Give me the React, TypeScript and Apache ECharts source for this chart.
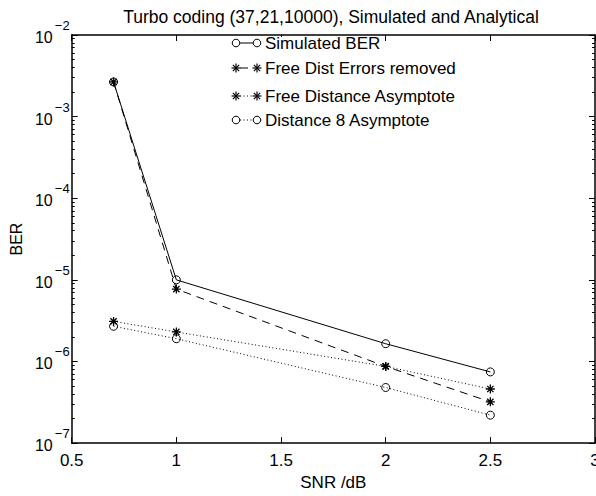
import React, { useEffect, useRef } from "react";
import * as echarts from "echarts";

// ---------- data ----------
const snr = [0.7, 1, 2, 2.5];
const simulatedBER = [2.66e-3, 1.0e-5, 1.65e-6, 7.45e-7];
const freeDistErrorsRemoved = [2.66e-3, 7.7e-6, 8.7e-7, 3.2e-7];
const freeDistanceAsymptote = [3.1e-6, 2.3e-6, 8.7e-7, 4.6e-7];
const distance8Asymptote = [2.7e-6, 1.9e-6, 4.8e-7, 2.2e-7];
const seriesNames = [
  "Simulated BER",
  "Free Dist Errors removed",
  "Free Distance Asymptote",
  "Distance 8 Asymptote",
];
const xTicks = [0.5, 1, 1.5, 2, 2.5, 3];
const yDecades = [-7, -6, -5, -4, -3, -2];
const titleText = "Turbo coding (37,21,10000), Simulated and Analytical";

const FONT = "'Liberation Sans', Arial, Helvetica, sans-serif";
const STAR = "path://M5,0L5,10M0,5L10,5M1.5,1.5L8.5,8.5M1.5,8.5L8.5,1.5";

const majorY = yDecades.map((d) => Math.pow(10, d));
const minorY: number[] = [];
yDecades.slice(0, -1).forEach((d) => {
  for (let m = 2; m <= 9; m++) minorY.push(m * Math.pow(10, d));
});

function pairs(ys: number[]) {
  return snr.map((x, i) => [x, ys[i]]);
}

function legendElements() {
  const rows = [43, 68, 96, 120];
  const x1 = 236;
  const x2 = 257;
  const kinds = [
    { marker: "circle", line: "solid" },
    { marker: "star", line: [8, 6] },
    { marker: "star", line: [1, 2.5] },
    { marker: "circle", line: [1, 2.5] },
  ];
  const els: any[] = [
    {
      type: "rect",
      shape: { x: 228, y: 37, width: 72, height: 95 },
      style: { fill: "#fff" },
      z: 100,
    },
  ];
  rows.forEach((y, i) => {
    const k = kinds[i];
    els.push({
      type: "line",
      shape: { x1: x1 + 4, y1: y, x2: x2 - 4, y2: y },
      style: { stroke: "#000", lineWidth: 1, lineDash: k.line === "solid" ? null : k.line },
      z: 101,
    });
    [x1, x2].forEach((cx) => {
      if (k.marker === "circle") {
        els.push({
          type: "circle",
          shape: { cx, cy: y, r: 3.8 },
          style: { stroke: "#000", fill: "none", lineWidth: 1 },
          z: 101,
        });
      } else {
        const r = 4.5;
        const d = r * 0.7;
        [
          [0, -r, 0, r],
          [-r, 0, r, 0],
          [-d, -d, d, d],
          [-d, d, d, -d],
        ].forEach(([a, b, c, e]) =>
          els.push({
            type: "line",
            shape: { x1: cx + a, y1: y + b, x2: cx + c, y2: y + e },
            style: { stroke: "#000", lineWidth: 1.2 },
            z: 101,
          })
        );
      }
    });
    els.push({
      type: "text",
      x: 265,
      y,
      style: {
        text: seriesNames[i],
        fill: "#000",
        font: `17px ${FONT}`,
        textVerticalAlign: "middle",
        textAlign: "left",
      },
      z: 101,
    });
  });
  return els;
}

export default function App() {
  const ref = useRef<HTMLDivElement>(null);
  useEffect(() => {
    if (!ref.current) return;
    const chart = echarts.init(ref.current, null, { renderer: "svg" });
    const axisLine = { show: true, onZero: false, lineStyle: { color: "#000", width: 1.5 } };
    const xCommon = {
      type: "value" as const,
      min: xTicks[0],
      max: xTicks[xTicks.length - 1],
      interval: 0.5,
      splitLine: { show: false },
      axisLine,
      axisTick: { show: true, inside: true, length: 6, lineStyle: { color: "#000" } },
    };
    const yCommon = {
      type: "log" as const,
      logBase: 10,
      min: majorY[0],
      max: majorY[majorY.length - 1],
      splitLine: { show: false },
    };
    const mkSeries = (name: string, ys: number[], symbol: string, lineType: any) => ({
      name,
      type: "line" as const,
      data: pairs(ys),
      symbol,
      symbolSize: symbol === "circle" ? 8 : 9,
      lineStyle: { color: "#000", width: 1, type: lineType },
      itemStyle: { color: "rgba(0,0,0,0)", borderColor: "#000", borderWidth: symbol === "circle" ? 1 : 1.3 },
      emphasis: { disabled: true },
      z: 3,
    });
    chart.setOption({
      animation: false,
      backgroundColor: "#fff",
      title: {
        text: titleText,
        left: "center",
        top: 3,
        textStyle: { fontFamily: FONT, fontSize: 17.5, fontWeight: "normal", color: "#000" },
      },
      grid: { left: 67, top: 35, right: 67, bottom: 40 },
      xAxis: [
        {
          ...xCommon,
          position: "bottom",
          name: "SNR /dB",
          nameLocation: "middle",
          nameGap: 24,
          nameTextStyle: { fontFamily: FONT, fontSize: 17, color: "#000" },
          axisLabel: { fontFamily: FONT, fontSize: 17, color: "#000", margin: 9 },
        },
        { ...xCommon, position: "top", axisLabel: { show: false } },
      ],
      yAxis: [
        {
          ...yCommon,
          position: "left",
          axisLine,
          axisTick: { show: true, inside: true, length: 6, customValues: majorY, lineStyle: { color: "#000" } },
          name: "BER",
          nameLocation: "middle",
          nameGap: 44,
          nameTextStyle: { fontFamily: FONT, fontSize: 16, color: "#000" },
          axisLabel: {
            customValues: majorY,
            margin: 2,
            align: "right",
            padding: [0, 0, 3, 0],
            formatter: (v: number) => `{s|\u2212${Math.round(-Math.log10(v))}}\n{b|10}{sp| }`,
            rich: {
              b: { fontFamily: FONT, fontSize: 16, lineHeight: 16, color: "#000", align: "right" },
              sp: { fontFamily: FONT, fontSize: 16, lineHeight: 16, width: 17, color: "#fff", align: "right" },
              s: { fontFamily: FONT, fontSize: 13, lineHeight: 8, color: "#000", align: "right" },
            },
          },
        },
        {
          ...yCommon,
          position: "right",
          axisLine,
          axisTick: { show: true, inside: true, length: 6, customValues: majorY, lineStyle: { color: "#000" } },
          axisLabel: { show: false },
        },
        {
          ...yCommon,
          position: "left",
          axisLine: { show: false },
          axisTick: { show: true, inside: true, length: 3, customValues: minorY, lineStyle: { color: "#000" } },
          axisLabel: { show: false },
        },
        {
          ...yCommon,
          position: "right",
          axisLine: { show: false },
          axisTick: { show: true, inside: true, length: 3, customValues: minorY, lineStyle: { color: "#000" } },
          axisLabel: { show: false },
        },
      ],
      series: [
        mkSeries(seriesNames[0], simulatedBER, "circle", "solid"),
        mkSeries(seriesNames[1], freeDistErrorsRemoved, STAR, [8, 6]),
        mkSeries(seriesNames[2], freeDistanceAsymptote, STAR, [1, 2.5]),
        mkSeries(seriesNames[3], distance8Asymptote, "circle", [1, 2.5]),
      ],
      graphic: legendElements(),
    });
    return () => chart.dispose();
  }, []);
  return (
    <div style={{ position: "fixed", left: 0, top: 0, width: 596, height: 496, overflow: "hidden", background: "#fff" }}>
      <div ref={ref} style={{ width: 662, height: 496 }} />
    </div>
  );
}
